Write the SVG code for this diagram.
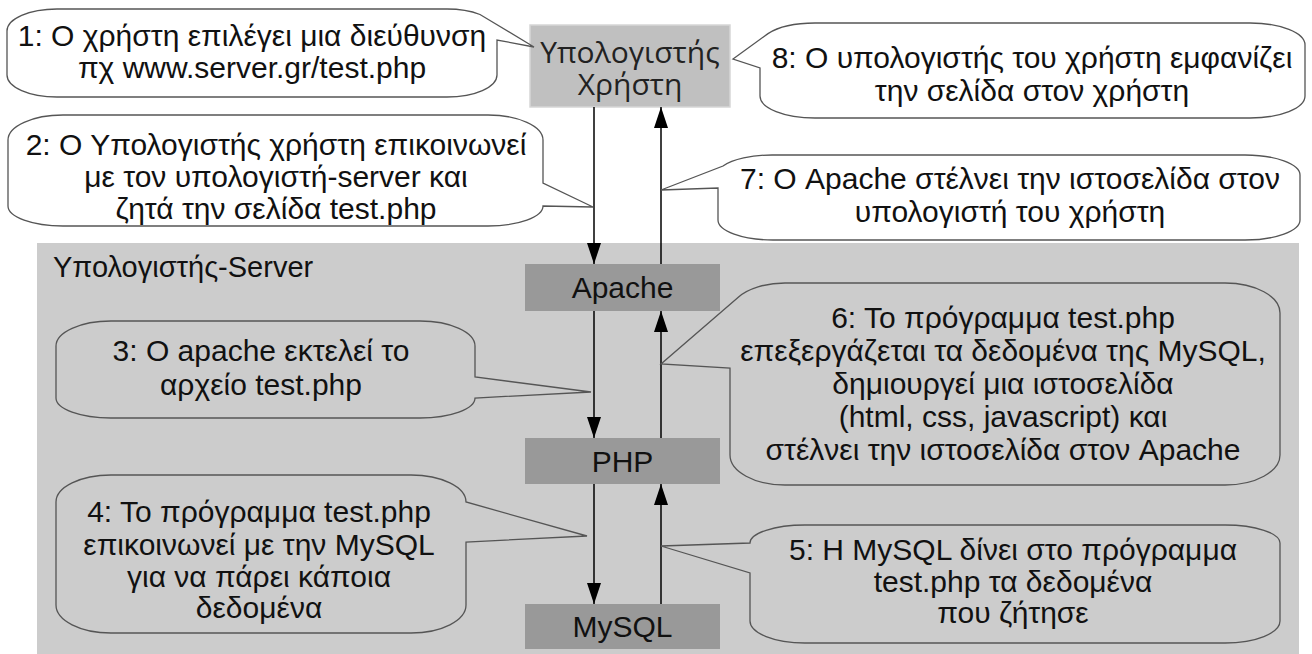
<svg xmlns="http://www.w3.org/2000/svg" width="1312" height="654" viewBox="0 0 1312 654">
<style>
.bub{fill:#ffffff;stroke:#555555;stroke-width:1.3}
.bubg{fill:#cccccc;stroke:#555555;stroke-width:1.3}
.t{font-family:"Liberation Sans",Arial,sans-serif;font-size:30px;fill:#111111;text-anchor:middle}
.tl{font-family:"Liberation Sans",Arial,sans-serif;font-size:29px;fill:#111111}
.tu{font-family:"Open Sans","Noto Sans",sans-serif;font-size:30px;fill:#222222;text-anchor:middle}
.box{fill:#999999}
.ln{stroke:#000000;stroke-width:1.5;fill:none;marker-end:url(#ah)}
</style>
<defs>
<marker id="ah" markerUnits="userSpaceOnUse" markerWidth="22" markerHeight="16" refX="21" refY="7" orient="auto">
<path d="M0,0 L21,7 L0,14 Z" fill="#000000"/>
</marker>
</defs>
<rect x="0" y="0" width="1312" height="654" fill="#ffffff"/>
<rect id="server-area" x="37" y="243" width="1262" height="411" fill="#cccccc"/>
<text class="tl" x="53" y="277">Υπολογιστής-Server</text>

<g id="user-pc">
<rect x="530" y="25" width="200" height="82" fill="#c0c0c0" stroke="#d6d6d6" stroke-width="1.5"/>
<text class="tu" x="630" y="63">Υπολογιστής</text>
<text class="tu" x="630" y="95">Χρήστη</text>
</g>
<g id="apache">
<rect class="box" x="525" y="264" width="195" height="47"/>
<text class="t" x="622.5" y="298">Apache</text>
</g>
<g id="php">
<rect class="box" x="525" y="438" width="195" height="46"/>
<text class="t" x="622.5" y="472">PHP</text>
</g>
<g id="mysql">
<rect class="box" x="525" y="604" width="195" height="45"/>
<text class="t" x="622.5" y="637">MySQL</text>
</g>

<g id="connectors">
<line class="ln" x1="594" y1="107" x2="594" y2="264"/>
<line class="ln" x1="594" y1="311" x2="594" y2="438"/>
<line class="ln" x1="594" y1="484" x2="594" y2="604"/>
<line class="ln" x1="661" y1="264" x2="661" y2="107"/>
<line class="ln" x1="661" y1="438" x2="661" y2="311"/>
<line class="ln" x1="661" y1="604" x2="661" y2="484"/>
</g>

<g id="callout1">
<path class="bub" d="M57,9 H447 A50 22 0 0 1 480,14.5 L534,47 L497,40 V75 A50 22 0 0 1 447,97 H57 A50 22 0 0 1 7,75 V31 A50 22 0 0 1 57,9 Z"/>
<text class="t" x="252" y="46">1: Ο χρήστη επιλέγει μια διεύθυνση</text>
<text class="t" x="252" y="78">πχ www.server.gr/test.php</text>
</g>
<g id="callout8">
<path class="bub" d="M815,23 H1250 A55 22 0 0 1 1305,45 V96 A55 22 0 0 1 1250,118 H815 A55 22 0 0 1 760,96 V68 L733,59 L768,33.6 A55 22 0 0 1 815,23 Z"/>
<text class="t" x="1032" y="68">8: Ο υπολογιστής του χρήστη εμφανίζει</text>
<text class="t" x="1032" y="101">την σελίδα στον χρήστη</text>
</g>
<g id="callout2">
<path class="bub" d="M63,115 H488 A55 25 0 0 1 543,140 V183 L593,207 L543,206 A55 20 0 0 1 488,226 H63 A55 20 0 0 1 8,206 V140 A55 25 0 0 1 63,115 Z"/>
<text class="t" x="276" y="155">2: Ο Υπολογιστής χρήστη επικοινωνεί</text>
<text class="t" x="276" y="187">με τον υπολογιστή-server και</text>
<text class="t" x="276" y="219">ζητά την σελίδα test.php</text>
</g>
<g id="callout7">
<path class="bub" d="M773,155 H1245 A55 20 0 0 1 1300,175 V220 A55 20 0 0 1 1245,240 H773 A55 20 0 0 1 718,220 V188 L661,190 L723,166 A55 20 0 0 1 773,155 Z"/>
<text class="t" x="1010" y="189">7: Ο Apache στέλνει την ιστοσελίδα στον</text>
<text class="t" x="1010" y="222">υπολογιστή του χρήστη</text>
</g>
<g id="callout3">
<path class="bubg" d="M111,321 H420 A55 25 0 0 1 475,346 V377 L591,392 L475,398 A55 20 0 0 1 420,418 H111 A55 20 0 0 1 56,398 V346 A55 25 0 0 1 111,321 Z"/>
<text class="t" x="261" y="361">3: Ο apache εκτελεί το</text>
<text class="t" x="261" y="395">αρχείο test.php</text>
</g>
<g id="callout6">
<path class="bubg" d="M785,283 H1225 A55 30 0 0 1 1280,313 V455 A55 30 0 0 1 1225,485 H785 A55 30 0 0 1 730,455 V368 L661,364 L738,297.4 A55 30 0 0 1 785,283 Z"/>
<text class="t" x="1003" y="328">6: Το πρόγραμμα test.php</text>
<text class="t" x="1003" y="361">επεξεργάζεται τα δεδομένα της MySQL,</text>
<text class="t" x="1003" y="394">δημιουργεί μια ιστοσελίδα</text>
<text class="t" x="1003" y="427">(html, css, javascript) και</text>
<text class="t" x="1003" y="460">στέλνει την ιστοσελίδα στον Apache</text>
</g>
<g id="callout4">
<path class="bubg" d="M111,475 H411 A55 27 0 0 1 466,502 L587,536 L466,542 V605 A55 28 0 0 1 411,633 H111 A55 28 0 0 1 56,605 V502 A55 27 0 0 1 111,475 Z"/>
<text class="t" x="259" y="522">4: Το πρόγραμμα test.php</text>
<text class="t" x="259" y="555">επικοινωνεί με την MySQL</text>
<text class="t" x="259" y="587">για να πάρει κάποια</text>
<text class="t" x="259" y="618">δεδομένα</text>
</g>
<g id="callout5">
<path class="bubg" d="M805,525 H1225 A55 18 0 0 1 1280,543 V621 A55 22 0 0 1 1225,643 H805 A55 22 0 0 1 750,621 V573 L661,546 L750,543 A55 18 0 0 1 805,525 Z"/>
<text class="t" x="1013" y="560">5: Η MySQL δίνει στο πρόγραμμα</text>
<text class="t" x="1013" y="592">test.php τα δεδομένα</text>
<text class="t" x="1013" y="623">που ζήτησε</text>
</g>
</svg>
